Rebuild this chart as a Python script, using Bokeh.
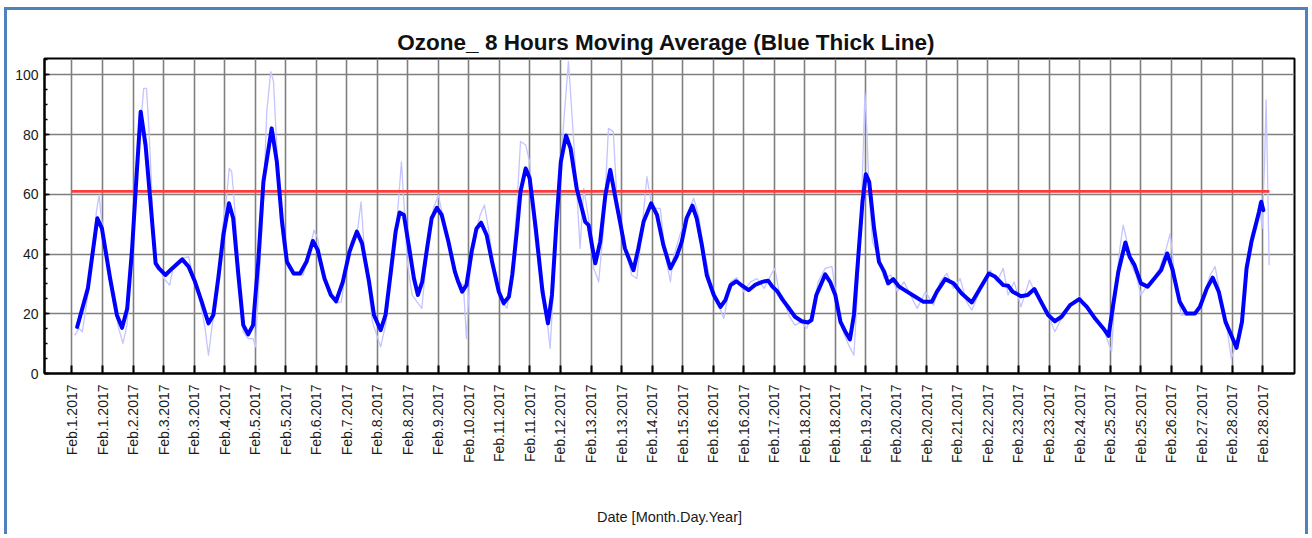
import math
from bokeh.plotting import figure
from bokeh.models import Range1d, FixedTicker, SingleIntervalTicker
from bokeh.layouts import column
from bokeh.embed import file_html
from bokeh.resources import INLINE

# ---- tick labels (one per tick interval index) ----
tick_labels = [
    "Feb.1.2017", "Feb.1.2017", "Feb.2.2017", "Feb.3.2017", "Feb.3.2017",
    "Feb.4.2017", "Feb.5.2017", "Feb.5.2017", "Feb.6.2017", "Feb.7.2017",
    "Feb.8.2017", "Feb.8.2017", "Feb.9.2017", "Feb.10.2017", "Feb.11.2017",
    "Feb.11.2017", "Feb.12.2017", "Feb.13.2017", "Feb.13.2017", "Feb.14.2017",
    "Feb.15.2017", "Feb.16.2017", "Feb.16.2017", "Feb.17.2017", "Feb.18.2017",
    "Feb.18.2017", "Feb.19.2017", "Feb.20.2017", "Feb.20.2017", "Feb.21.2017",
    "Feb.22.2017", "Feb.23.2017", "Feb.23.2017", "Feb.24.2017", "Feb.25.2017",
    "Feb.25.2017", "Feb.26.2017", "Feb.27.2017", "Feb.28.2017", "Feb.28.2017",
]

# ---- 8-hour moving average (time in tick-interval units, ozone value) ----
avg_time = [
    0.17, 0.52, 0.83, 0.98, 1.25, 1.47, 1.64, 1.81, 1.97, 2.11, 2.25, 2.41, 2.57, 2.74, 2.85,
    3.06, 3.28, 3.61, 3.82, 4.03, 4.25, 4.47, 4.63, 4.79, 4.96, 5.14, 5.28, 5.45, 5.61, 5.77,
    5.93, 6.10, 6.27, 6.54, 6.71, 6.88, 7.04, 7.26, 7.47, 7.68, 7.89, 8.05, 8.27, 8.48, 8.65,
    8.87, 9.09, 9.33, 9.50, 9.73, 9.89, 10.11, 10.27, 10.43, 10.60, 10.73, 10.87, 11.03, 11.20,
    11.33, 11.47, 11.63, 11.78, 11.95, 12.11, 12.33, 12.54, 12.65, 12.78, 12.92, 13.09, 13.25,
    13.40, 13.58, 13.76, 13.98, 14.14, 14.31, 14.42, 14.58, 14.69, 14.86, 14.99, 15.19, 15.41,
    15.59, 15.72, 15.87, 16.01, 16.18, 16.33, 16.53, 16.70, 16.81, 16.92, 17.03, 17.14, 17.30,
    17.47, 17.63, 17.80, 17.95, 18.11, 18.24, 18.39, 18.55, 18.72, 18.97, 19.16, 19.37, 19.60,
    19.80, 19.97, 20.13, 20.32, 20.46, 20.63, 20.79, 21.02, 21.24, 21.40, 21.57, 21.76, 21.95,
    22.16, 22.39, 22.61, 22.80, 22.94, 23.11, 23.26, 23.47, 23.68, 23.90, 24.11, 24.22, 24.38,
    24.67, 24.83, 25.00, 25.17, 25.33, 25.48, 25.61, 25.74, 25.89, 26.00, 26.11, 26.27, 26.43,
    26.60, 26.73, 26.90, 27.09, 27.35, 27.62, 27.89, 28.16, 28.33, 28.60, 28.87, 29.14, 29.47,
    29.74, 30.03, 30.24, 30.50, 30.66, 30.81, 31.08, 31.30, 31.52, 31.74, 31.97, 32.19, 32.41,
    32.69, 32.99, 33.24, 33.51, 33.78, 33.95, 34.10, 34.27, 34.50, 34.64, 34.80, 35.01, 35.23,
    35.45, 35.67, 35.87, 36.05, 36.28, 36.50, 36.78, 36.94, 37.17, 37.36, 37.56, 37.78, 37.97,
    38.14, 38.32, 38.47, 38.63, 38.77, 38.88, 38.95, 39.02,
]
avg_ozone = [
    15.6, 28.5, 52.0, 48.6, 31.8, 19.6, 15.3, 21.8, 41.9, 65.4, 87.7, 76.5, 57.5, 36.9, 35.2,
    33.0, 35.2, 38.2, 35.8, 30.7, 24.0, 16.8, 19.6, 31.8, 46.4, 57.0, 52.0, 33.0, 16.2, 13.1,
    16.2, 37.4, 64.2, 82.1, 70.9, 50.8, 37.4, 33.5, 33.5, 37.4, 44.4, 41.3, 31.8, 26.3, 24.2,
    30.7, 40.8, 47.5, 43.6, 30.7, 19.6, 14.5, 19.6, 33.0, 47.5, 53.9, 53.1, 43.0, 31.8,
    26.3, 30.7, 41.9, 52.0, 55.5, 53.1, 44.1, 34.1, 30.7, 27.4, 29.6, 40.8, 48.6,
    50.5, 46.4, 37.4, 27.4, 23.5, 25.7, 33.0, 48.6, 60.9, 68.7, 65.4, 48.6, 27.4,
    16.8, 26.3, 50.8, 70.9, 79.7, 75.4, 62.0, 55.3, 50.8, 49.7, 43.0, 36.9, 44.1,
    59.8, 68.2, 58.7, 50.8, 41.9, 38.5, 34.6, 41.9, 50.8, 57.0, 53.1, 43.0, 35.2,
    39.1, 44.1, 52.0, 56.2, 52.0, 43.0, 33.0, 26.3, 22.3, 24.6, 29.6, 30.9, 29.4,
    27.9, 29.8, 30.7, 31.1, 29.1, 27.4, 24.9, 22.0, 19.0, 17.5, 17.1, 17.9, 26.3,
    33.2, 30.7, 26.3, 17.3, 14.0, 11.4, 19.6, 37.4, 57.5, 66.7, 64.2, 48.6, 37.4,
    34.1, 30.2, 31.6, 29.1, 27.4, 25.7, 24.0, 24.0, 27.4, 31.6, 30.2, 26.8, 23.8,
    28.5, 33.5, 32.4, 29.6, 29.4, 27.4, 25.9, 26.3, 28.3, 24.0, 19.6, 17.5, 19.0,
    22.9, 24.9, 22.3, 18.4, 15.1, 12.6, 22.9, 34.1, 43.9, 39.1, 36.3, 30.2, 29.1,
    31.8, 34.6, 40.2, 34.6, 24.0, 20.1, 20.1, 22.3, 28.5, 32.1, 27.4, 17.3, 12.8,
    8.6, 17.3, 35.2, 44.1, 49.7, 54.2, 57.5, 54.7,
]

# ---- hourly raw ozone (thin line) ----
raw_time = [
    0.09, 0.23, 0.34, 0.52, 0.69, 0.80, 0.89, 0.95, 1.09, 1.31, 1.53, 1.67, 1.80, 1.97, 2.08,
    2.24, 2.35, 2.44, 2.52, 2.63, 2.70, 2.79, 3.01, 3.20, 3.33, 3.55, 3.82, 3.98, 4.20, 4.36,
    4.47, 4.58, 4.74, 4.90, 5.07, 5.15, 5.23, 5.30, 5.45, 5.61, 5.77, 5.93, 6.01, 6.10, 6.27,
    6.38, 6.51, 6.60, 6.71, 6.82, 6.96, 7.10, 7.31, 7.57, 7.79, 7.93, 8.05, 8.22, 8.43, 8.65,
    8.82, 8.98, 9.14, 9.36, 9.47, 9.57, 9.84, 10.11, 10.27, 10.49, 10.65, 10.79, 10.87, 10.98,
    11.14, 11.30, 11.46, 11.62, 11.84, 12.00, 12.16, 12.38, 12.65, 12.82, 12.92, 13.03, 13.20,
    13.37, 13.51, 13.64, 13.87, 14.09, 14.25, 14.42, 14.58, 14.69, 14.86, 14.99, 15.13, 15.29,
    15.45, 15.66, 15.82, 15.93, 16.09, 16.26, 16.37, 16.53, 16.64, 16.76, 16.92, 17.09, 17.25,
    17.41, 17.57, 17.73, 17.84, 18.00, 18.17, 18.33, 18.50, 18.67, 18.83, 19.00, 19.27, 19.43,
    19.60, 19.69, 19.91, 20.19, 20.36, 20.52, 20.69, 20.91, 21.13, 21.35, 21.57, 21.78, 22.00,
    22.22, 22.44, 22.67, 22.89, 23.02, 23.16, 23.32, 23.47, 23.68, 23.89, 24.06, 24.22, 24.44,
    24.67, 24.89, 25.06, 25.22, 25.44, 25.61, 25.72, 25.83, 25.92, 25.97, 26.03, 26.11, 26.22,
    26.38, 26.60, 26.82, 27.03, 27.25, 27.46, 27.68, 27.95, 28.22, 28.43, 28.65, 28.87, 29.09,
    29.30, 29.47, 29.68, 29.87, 30.08, 30.29, 30.50, 30.66, 30.86, 31.08, 31.36, 31.58, 31.80,
    32.02, 32.19, 32.41, 32.63, 32.86, 33.02, 33.24, 33.51, 33.78, 34.05, 34.16, 34.32, 34.43,
    34.53, 34.69, 34.85, 35.01, 35.23, 35.40, 35.62, 35.84, 35.97, 36.11, 36.33, 36.56, 36.83,
    37.06, 37.28, 37.44, 37.61, 37.83, 37.97, 38.16, 38.32, 38.47, 38.63, 38.79, 38.89, 38.98,
    39.06, 39.11, 39.15, 39.21,
]
raw_ozone = [
    12.8, 15.1, 14.0, 26.3, 41.9, 54.2, 59.8, 53.1, 41.9, 26.3, 15.1, 10.1, 16.2, 41.9, 62.0,
    82.1, 95.5, 95.5, 82.1, 57.5, 37.4, 36.9, 31.8, 29.6, 36.3, 38.5, 39.1, 31.8, 24.0, 15.1,
    6.1, 15.1, 26.3, 46.4, 59.8, 68.7, 67.6, 59.8, 37.4, 14.0, 11.7, 11.7, 8.9, 26.3, 57.5,
    87.7, 101.1, 97.8, 75.4, 52.0, 39.7, 35.2, 33.0, 33.0, 41.9, 48.0, 45.3, 33.0, 26.3, 23.5,
    24.0, 35.2, 44.1, 48.6, 57.5, 41.9, 17.3, 8.9, 16.2, 35.2, 52.0, 70.9, 57.5, 37.4,
    26.3, 24.0, 21.8, 39.7, 55.3, 59.8, 52.0, 41.9, 30.7, 29.6, 11.7, 33.0, 46.4,
    53.1, 56.4, 48.6, 31.8, 24.0, 21.8, 35.2, 57.5, 77.7, 76.5, 70.9, 48.6, 35.2,
    28.5, 8.4, 37.4, 59.8, 82.1, 104.5, 87.7, 62.0, 41.9, 62.0, 52.0, 35.2, 30.7,
    48.6, 82.1, 81.0, 59.8, 46.4, 39.7, 33.0, 31.8, 48.6, 65.9, 55.3, 55.3, 39.7,
    30.7, 38.5, 46.4, 54.2, 58.7, 53.1, 41.9, 30.7, 24.0, 18.4, 30.7, 32.1, 27.4,
    30.7, 31.8, 28.5, 33.0, 35.2, 27.4, 25.1, 19.6, 16.2, 17.3, 15.1, 19.6, 30.7,
    35.2, 35.8, 24.0, 15.1, 9.5, 6.1, 26.3, 48.6, 76.5, 93.9, 82.1, 59.8, 44.1,
    39.7, 31.8, 33.0, 27.4, 30.7, 26.3, 21.8, 27.4, 22.9, 30.7, 33.5, 28.5, 31.8,
    24.0, 21.2, 26.3, 30.7, 34.6, 30.7, 35.2, 26.3, 30.7, 22.3, 31.3, 26.3, 22.9,
    18.4, 14.0, 18.4, 21.8, 24.0, 25.7, 21.8, 18.4, 15.1, 7.3, 26.3, 41.9, 49.7,
    45.3, 36.3, 33.0, 26.3, 29.6, 31.8, 35.2, 41.9, 46.9, 33.0, 19.6, 19.6, 20.1,
    26.3, 33.0, 35.8, 26.3, 15.1, 5.0, 10.6, 19.6, 37.4, 46.4, 52.0, 57.5, 48.6,
    70.9, 91.6, 70.9, 36.3,
]

# ---- limit line ----
limit_value = 61.0
limit_time = [0.0, 39.22]

p = figure(
    width=1298, height=524,
    x_range=Range1d(-0.9, 40.04), y_range=Range1d(0, 105.5),
    output_backend="svg", toolbar_location=None,
    title="Ozone_ 8 Hours  Moving Average (Blue Thick Line)",
    min_border_left=37, min_border_top=48, min_border_right=11, min_border_bottom=161,
)
p.background_fill_color = "white"
p.border_fill_color = "white"
p.outline_line_color = "black"
p.outline_line_width = 2

p.title.align = "center"
p.title.text_font = "Liberation Sans"
p.title.text_font_size = "22.5px"
p.title.text_font_style = "bold"
p.title.text_color = "#111111"
p.title.standoff = 7

# x axis
xa = p.xaxis[0]
xa.ticker = FixedTicker(ticks=list(range(len(tick_labels))))
xa.major_label_overrides = {i: lab for i, lab in enumerate(tick_labels)}
xa.major_label_orientation = math.pi / 2
xa.major_label_text_font = "Liberation Sans"
xa.major_label_text_font_size = "14px"
xa.major_label_text_color = "#1a1a1a"
xa.major_label_standoff = 11
xa.major_tick_in = 8
xa.major_tick_out = 0
xa.minor_tick_in = 0
xa.minor_tick_out = 0
xa.axis_line_color = "black"
xa.axis_line_width = 2
xa.major_tick_line_color = "black"
xa.major_tick_line_width = 2
xa.axis_label = "Date [Month.Day.Year]"
xa.axis_label_text_font = "Liberation Sans"
xa.axis_label_text_font_size = "14.5px"
xa.axis_label_text_font_style = "normal"
xa.axis_label_text_color = "#1a1a1a"
xa.axis_label_standoff = 43

# y axis
ya = p.yaxis[0]
ya.ticker = SingleIntervalTicker(interval=20, num_minor_ticks=4)
ya.major_label_text_font = "Liberation Sans"
ya.major_label_text_font_size = "14px"
ya.major_label_text_color = "#1a1a1a"
ya.major_label_standoff = 6
ya.major_tick_in = 5
ya.major_tick_out = 0
ya.minor_tick_in = 3
ya.minor_tick_out = 0
ya.axis_line_color = "black"
ya.axis_line_width = 2
ya.major_tick_line_color = "black"
ya.major_tick_line_width = 1.5
ya.minor_tick_line_color = "black"
ya.minor_tick_line_width = 1.5

# grids
p.xgrid.ticker = xa.ticker
p.xgrid.grid_line_color = "#7f7f7f"
p.xgrid.grid_line_width = 1.6
p.ygrid.grid_line_color = "#7f7f7f"
p.ygrid.grid_line_width = 1.6

# series
p.line(raw_time, raw_ozone, line_color="#c4c4ff", line_width=1.3, line_join="round")
p.line(limit_time, [limit_value, limit_value], line_color="#ff3b3b", line_width=2.6)
p.line(avg_time, avg_ozone, line_color="#0000ff", line_width=4, line_join="round", line_cap="round")

layout = column(p, margin=(7, 0, 0, 4), styles={
    "border-top": "3px solid #4f81bd",
    "border-left": "3px solid #4f81bd",
    "border-right": "3px solid #4f81bd",
})

open("out.html", "w").write(file_html(layout, INLINE))
